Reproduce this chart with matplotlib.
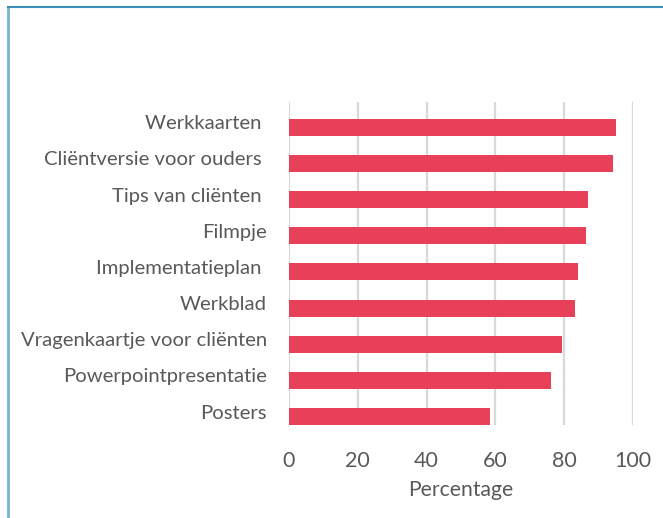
import matplotlib.pyplot as plt
from matplotlib.lines import Line2D
from matplotlib.transforms import ScaledTranslation

# Materials, top to bottom as shown in the chart
materials = [
    "Werkkaarten ",
    "Cliëntversie voor ouders ",
    "Tips van cliënten ",
    "Filmpje",
    "Implementatieplan ",
    "Werkblad",
    "Vragenkaartje voor cliënten",
    "Powerpointpresentatie",
    "Posters",
]
percentages = [95.1, 94.3, 87.0, 86.2, 83.9, 83.0, 79.5, 76.1, 58.3]
x_ticks = [0, 20, 40, 60, 80, 100]

BAR_COLOR = "#E9405A"
TEXT_COLOR = "#595959"
GRID_COLOR = "#D9D9D9"

plt.rcParams["font.family"] = ["Lato", "DejaVu Sans"]

W, H = 663, 518
fig = plt.figure(figsize=(W / 100, H / 100), dpi=100)
ax = fig.add_axes([289 / W, 1 - 425 / H, (633 - 289) / W, (425 - 101.7) / H])

# reverse so the first item sits on top
ypos = list(range(len(materials)))[::-1]
ax.barh(ypos, percentages, height=0.47, color=BAR_COLOR, zorder=3)

ax.set_xlim(0, 100)
ax.set_ylim(-0.235, len(materials) - 1 + 0.708)
ax.set_xticks(x_ticks)
ax.set_yticks(ypos)
ax.set_yticklabels(materials)

ax.grid(axis="x", color=GRID_COLOR, linewidth=1.6, zorder=0)
ax.grid(axis="y", visible=False)
for s in ax.spines.values():
    s.set_visible(False)

ax.tick_params(axis="both", length=0, colors=TEXT_COLOR)
ax.tick_params(axis="x", labelsize=15.5, pad=19)
ax.tick_params(axis="y", labelsize=14.6, pad=16)
ax.set_xlabel("Percentage", fontsize=15.2, color=TEXT_COLOR, labelpad=6)

# labels sit a little above the bar centres in the original
shift = ScaledTranslation(0, 5 / 100, fig.dpi_scale_trans)
for lbl in ax.get_yticklabels():
    lbl.set_transform(lbl.get_transform() + shift)

# frame lines of the original slide
fig.add_artist(Line2D([8 / W, 8 / W], [0, 1 - 7 / H], transform=fig.transFigure,
                      color="#72B8D0", linewidth=2.0))
fig.add_artist(Line2D([8 / W, 1], [1 - 7 / H, 1 - 7 / H], transform=fig.transFigure,
                      color="#3D8FB8", linewidth=1.5))

fig.savefig("out.png", dpi=100, facecolor="white")
